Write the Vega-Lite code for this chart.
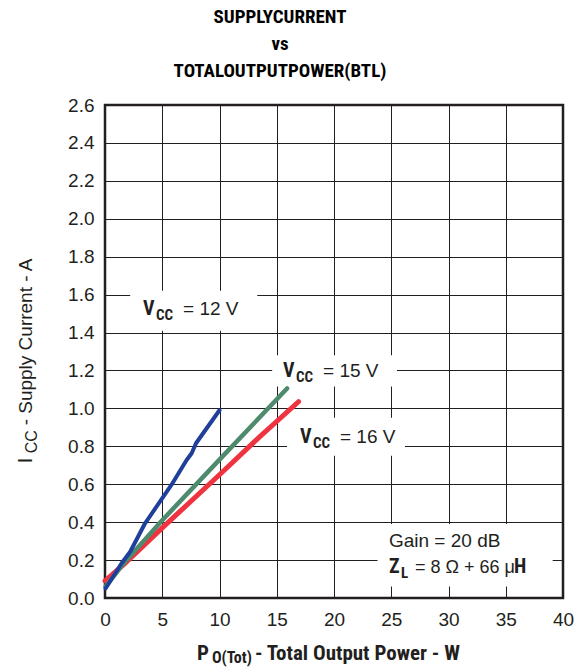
{
  "$schema": "https://vega.github.io/schema/vega-lite/v6.json",
  "width": 458,
  "height": 493,
  "autosize": {"type": "none"},
  "padding": {"left": 105, "top": 105, "right": 16, "bottom": 70},
  "background": "white",
  "title": {
    "text": ["SUPPLYCURRENT", "vs", "TOTALOUTPUTPOWER(BTL)"],
    "font": "Roboto Condensed, Liberation Sans Narrow, DejaVu Sans Condensed, sans-serif",
    "fontWeight": "bold",
    "fontSize": 19,
    "lineHeight": 27,
    "color": "#000000",
    "anchor": "middle",
    "dx": -54,
    "offset": 15
  },
  "config": {
    "view": {"stroke": "#231f20", "strokeWidth": 2.5},
    "axis": {
      "labelFont": "Liberation Sans, Arial, sans-serif",
      "labelFontSize": 19,
      "labelColor": "#231f20",
      "ticks": false,
      "domain": false,
      "grid": true,
      "gridColor": "#231f20",
      "gridWidth": 1,
      "gridOpacity": 1,
      "title": null
    }
  },
  "datasets": {
    "curves": [
      {"s": "16", "x": 0.0, "y": 0.09},
      {"s": "16", "x": 1.6, "y": 0.175},
      {"s": "16", "x": 5.0, "y": 0.37},
      {"s": "16", "x": 10.0, "y": 0.65},
      {"s": "16", "x": 13.5, "y": 0.85},
      {"s": "16", "x": 16.9, "y": 1.035},
      {"s": "15", "x": 0.05, "y": 0.06},
      {"s": "15", "x": 1.6, "y": 0.18},
      {"s": "15", "x": 5.0, "y": 0.41},
      {"s": "15", "x": 10.0, "y": 0.73},
      {"s": "15", "x": 15.9, "y": 1.105},
      {"s": "12", "x": 0.05, "y": 0.05},
      {"s": "12", "x": 1.45, "y": 0.183},
      {"s": "12", "x": 2.2, "y": 0.244},
      {"s": "12", "x": 3.5, "y": 0.394},
      {"s": "12", "x": 5.8, "y": 0.596},
      {"s": "12", "x": 7.13, "y": 0.728},
      {"s": "12", "x": 7.57, "y": 0.763},
      {"s": "12", "x": 7.95, "y": 0.816},
      {"s": "12", "x": 10.0, "y": 0.99}
    ],
    "boxes": [
      {"x": 2.2, "x2": 13.3, "y": 1.62, "y2": 1.41},
      {"x": 14.6, "x2": 25.5, "y": 1.28, "y2": 1.115},
      {"x": 15.9, "x2": 26.2, "y": 0.95, "y2": 0.75},
      {"x": 23.8, "x2": 39.1, "y": 0.39, "y2": 0.06}
    ],
    "vlabels": [
      {"x": 3.32, "y": 1.493, "t": "= 12 V"},
      {"x": 15.55, "y": 1.166, "t": "= 15 V"},
      {"x": 17.03, "y": 0.818, "t": "= 16 V"}
    ],
    "note": [
      {"x": 24.8, "y": 0.269, "y2": 0.132}
    ],
    "ytitle": [
      {"x": -6.38, "y": 0.71}
    ],
    "xtitle": [
      {"x": 8.03, "y": -0.327}
    ]
  },
  "encoding": {
    "x": {
      "field": "x",
      "type": "quantitative",
      "scale": {"domain": [0, 40], "nice": false, "zero": false},
      "axis": {"values": [0, 5, 10, 15, 20, 25, 30, 35, 40], "labelPadding": 12, "labelFlush": false}
    },
    "y": {
      "field": "y",
      "type": "quantitative",
      "scale": {"domain": [0, 2.6], "nice": false, "zero": false},
      "axis": {"values": [0, 0.2, 0.4, 0.6, 0.8, 1.0, 1.2, 1.4, 1.6, 1.8, 2.0, 2.2, 2.4, 2.6], "format": ".1f", "labelPadding": 11, "labelFlush": false}
    }
  },
  "layer": [
    {
      "data": {"name": "boxes"},
      "mark": {"type": "rect", "fill": "white", "stroke": null},
      "encoding": {"x2": {"field": "x2"}, "y2": {"field": "y2"}}
    },
    {
      "data": {"name": "curves"},
      "mark": {"type": "line", "strokeCap": "round", "strokeJoin": "round"},
      "encoding": {
        "color": {"field": "s", "type": "nominal", "sort": null, "scale": {"domain": ["16", "15", "12"], "range": ["#ef3340", "#4e8a6e", "#1f3f9a"]}, "legend": null},
        "strokeWidth": {"field": "s", "type": "nominal", "sort": null, "scale": {"domain": ["16", "15", "12"], "range": [5, 4, 1.8]}, "legend": null}
      }
    },
    {
      "data": {"name": "vlabels"},
      "mark": {"type": "text", "text": "V", "align": "left", "baseline": "alphabetic", "font": "Roboto Condensed, Liberation Sans Narrow, DejaVu Sans Condensed, sans-serif", "fontWeight": "bold", "fontSize": 20, "color": "#231f20"}
    },
    {
      "data": {"name": "vlabels"},
      "mark": {"type": "text", "text": "CC", "align": "left", "baseline": "alphabetic", "dx": 13, "dy": 5, "font": "Roboto Condensed, Liberation Sans Narrow, DejaVu Sans Condensed, sans-serif", "fontWeight": "bold", "fontSize": 15, "color": "#231f20"}
    },
    {
      "data": {"name": "vlabels"},
      "mark": {"type": "text", "align": "left", "baseline": "alphabetic", "dx": 40, "font": "Liberation Sans, Arial, sans-serif", "fontSize": 19, "color": "#231f20"},
      "encoding": {"text": {"field": "t"}}
    },
    {
      "data": {"name": "note"},
      "mark": {"type": "text", "text": "Gain = 20 dB", "align": "left", "baseline": "alphabetic", "font": "Liberation Sans, Arial, sans-serif", "fontSize": 19, "color": "#231f20"}
    },
    {
      "data": {"name": "note"},
      "mark": {"type": "text", "text": "Z", "align": "left", "baseline": "alphabetic", "font": "Roboto Condensed, Liberation Sans Narrow, DejaVu Sans Condensed, sans-serif", "fontWeight": "bold", "fontSize": 20, "color": "#231f20"},
      "encoding": {"y": {"field": "y2", "type": "quantitative"}}
    },
    {
      "data": {"name": "note"},
      "mark": {"type": "text", "text": "L", "align": "left", "baseline": "alphabetic", "dx": 12, "dy": 5, "font": "Roboto Condensed, Liberation Sans Narrow, DejaVu Sans Condensed, sans-serif", "fontWeight": "bold", "fontSize": 15, "color": "#231f20"},
      "encoding": {"y": {"field": "y2", "type": "quantitative"}}
    },
    {
      "data": {"name": "note"},
      "mark": {"type": "text", "text": "= 8 Ω + 66 μ", "align": "left", "baseline": "alphabetic", "dx": 26, "font": "Liberation Sans, Arial, sans-serif", "fontSize": 18, "color": "#231f20"},
      "encoding": {"y": {"field": "y2", "type": "quantitative"}}
    },
    {
      "data": {"name": "note"},
      "mark": {"type": "text", "text": "H", "align": "left", "baseline": "alphabetic", "dx": 125, "font": "Roboto Condensed, Liberation Sans Narrow, DejaVu Sans Condensed, sans-serif", "fontWeight": "bold", "fontSize": 20, "color": "#231f20"},
      "encoding": {"y": {"field": "y2", "type": "quantitative"}}
    },
    {
      "data": {"name": "ytitle"},
      "mark": {"type": "text", "text": "I", "angle": 270, "align": "left", "baseline": "alphabetic", "font": "Liberation Sans, Arial, sans-serif", "fontSize": 20, "color": "#231f20"}
    },
    {
      "data": {"name": "ytitle"},
      "mark": {"type": "text", "text": "CC", "angle": 270, "align": "left", "baseline": "alphabetic", "dx": 10, "dy": 5, "font": "Liberation Sans, Arial, sans-serif", "fontSize": 16, "color": "#231f20"}
    },
    {
      "data": {"name": "ytitle"},
      "mark": {"type": "text", "text": " - Supply Current - A", "angle": 270, "align": "left", "baseline": "alphabetic", "dx": 38, "font": "Liberation Sans, Arial, sans-serif", "fontSize": 19, "color": "#231f20"}
    },
    {
      "data": {"name": "xtitle"},
      "mark": {"type": "text", "text": "P", "align": "left", "baseline": "alphabetic", "font": "Roboto Condensed, Liberation Sans Narrow, DejaVu Sans Condensed, sans-serif", "fontWeight": "bold", "fontSize": 21, "color": "#231f20"}
    },
    {
      "data": {"name": "xtitle"},
      "mark": {"type": "text", "text": "O(Tot)", "align": "left", "baseline": "alphabetic", "dx": 15, "dy": 3, "font": "Roboto Condensed, Liberation Sans Narrow, DejaVu Sans Condensed, sans-serif", "fontWeight": "bold", "fontSize": 16, "color": "#231f20"}
    },
    {
      "data": {"name": "xtitle"},
      "mark": {"type": "text", "text": "-  Total Output Power  -  W", "align": "left", "baseline": "alphabetic", "dx": 58, "font": "Roboto Condensed, Liberation Sans Narrow, DejaVu Sans Condensed, sans-serif", "fontWeight": "bold", "fontSize": 21, "color": "#231f20"}
    }
  ]
}
